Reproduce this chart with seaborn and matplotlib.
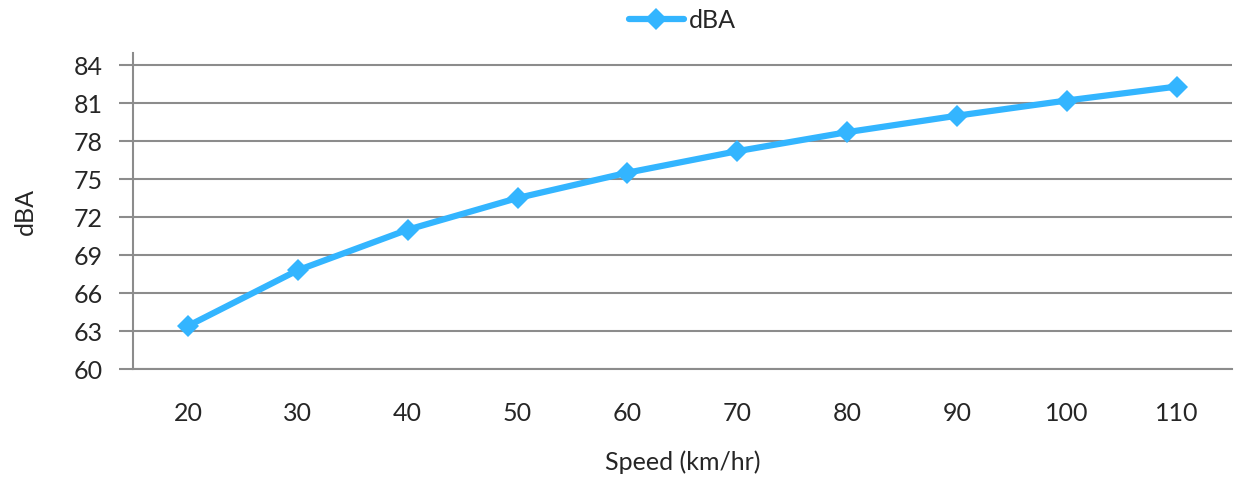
import matplotlib
matplotlib.use("Agg")
import matplotlib.pyplot as plt
import seaborn as sns
import pandas as pd

speeds = ["20", "30", "40", "50", "60", "70", "80", "90", "100", "110"]
dba = [63.4, 67.8, 71.0, 73.5, 75.5, 77.2, 78.7, 80.0, 81.2, 82.3]
yticks = [60, 63, 66, 69, 72, 75, 78, 81, 84]

sns.set_theme(style="white")
plt.rcParams['font.family'] = ['Lato', 'DejaVu Sans']

df = pd.DataFrame({"Speed": speeds, "dBA": dba})

fig = plt.figure(figsize=(12.34, 4.82), dpi=100)
ax = fig.add_axes([0.1078, 0.2344, 0.8902, 0.6556])

color = "#33B5FF"
sns.lineplot(data=df, x="Speed", y="dBA", ax=ax, color=color, linewidth=4.5,
             marker="D", markersize=11, markeredgewidth=0, label="dBA", sort=False)

ax.set_xlim(-0.5, len(speeds) - 0.5)
ax.set_ylim(60, 84.95)
ax.set_yticks(yticks)
ax.set_yticklabels([str(t) for t in yticks], fontsize=18)
ax.tick_params(axis="x", labelsize=18, length=0, pad=24)
ax.tick_params(axis="y", length=10, width=1.5, color="#8c8c8c", pad=12, left=True)
ax.yaxis.grid(True, color="#8c8c8c", linewidth=1.5)
ax.xaxis.grid(False)
for s in ["top", "right"]:
    ax.spines[s].set_visible(False)
for s in ["left", "bottom"]:
    ax.spines[s].set_color("#8c8c8c")
    ax.spines[s].set_linewidth(1.5)

ax.set_xlabel("Speed (km/hr)", fontsize=18, labelpad=18)
ax.set_ylabel("dBA", fontsize=18, labelpad=26)

leg = ax.legend(loc="center", bbox_to_anchor=(0.5, 1.104), frameon=False,
                fontsize=18, handlelength=2.2, handletextpad=0.2)

fig.savefig("out.png", dpi=100)
